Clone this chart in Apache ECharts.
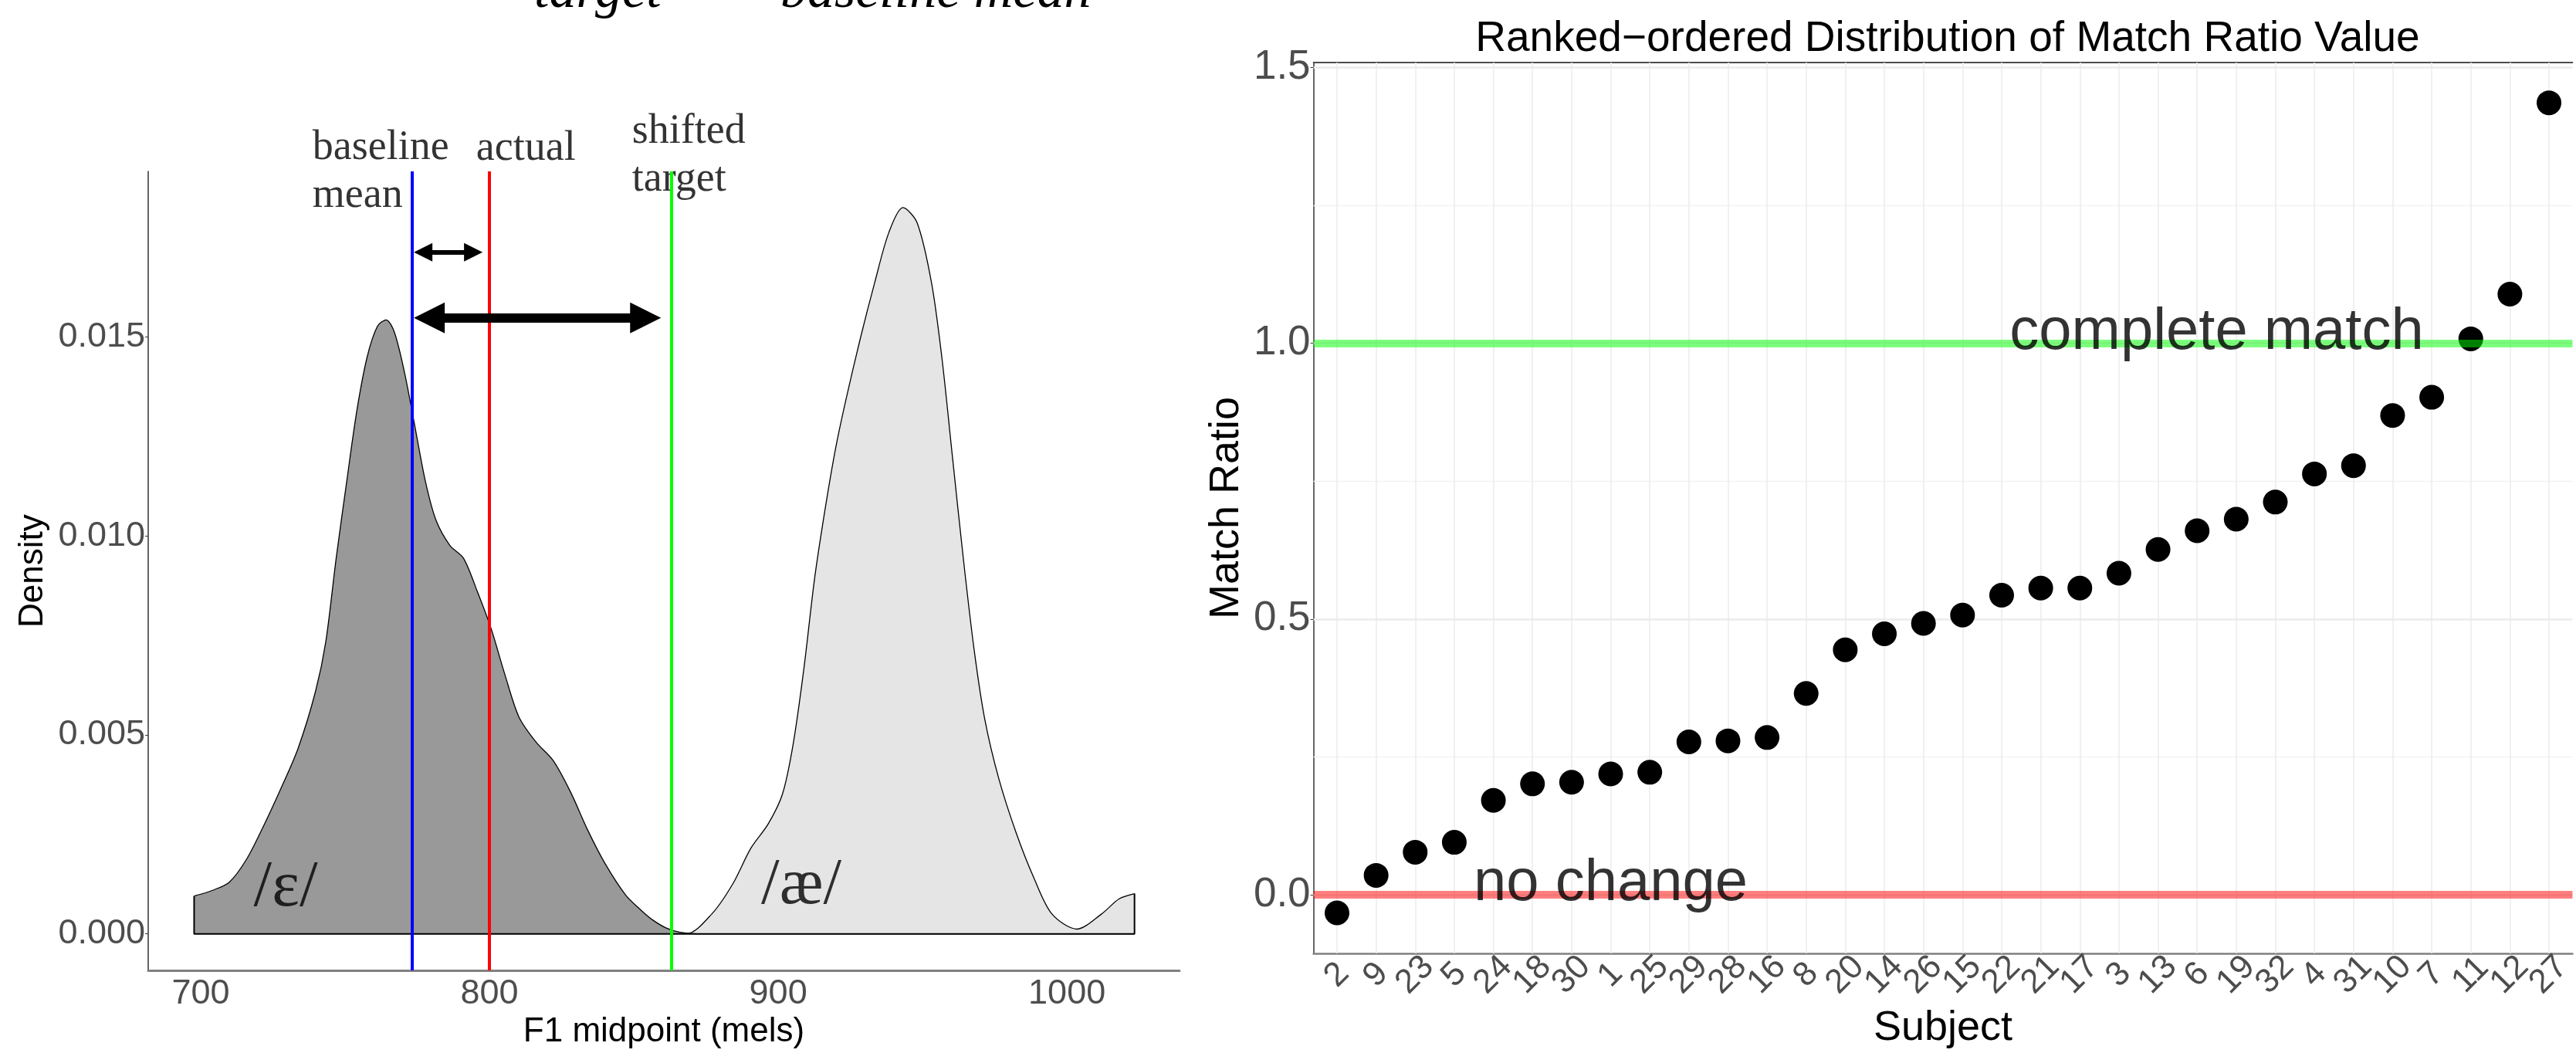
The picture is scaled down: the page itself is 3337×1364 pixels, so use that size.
<!DOCTYPE html>
<html lang="en">
<head>
<meta charset="UTF-8">
<title>F1 density and match ratio</title>
<script src="https://cdn.jsdelivr.net/npm/echarts@6/dist/echarts.min.js"></script>
<style>
html, body { margin: 0; padding: 0; background: #fff; }
#main { width: 3337px; height: 1364px; }
</style>
</head>
<body>
<div id="main"></div>
<script>
// ---- left panel: F1 midpoint density for /ɛ/ and /æ/ ----
var epsF1 = [697.7, 703.9, 709.9, 715.9, 721.8, 727.8, 733.7, 739.7, 743.3, 746.9, 750.5, 754.0, 757.6, 761.2, 764.2, 767.1, 770.7, 774.3, 777.9, 781.5, 786.3, 791.0, 795.8, 800.6, 805.4, 810.2, 816.1, 822.1, 828.1, 834.0, 840.0, 847.1, 852.4, 856.5, 861.4, 866.0, 872.0, 1023.4];
var epsDensity = [0.00095, 0.00109, 0.00130, 0.00188, 0.00272, 0.00366, 0.00466, 0.00608, 0.00734, 0.00944, 0.01134, 0.01312, 0.01449, 0.01527, 0.01543, 0.01511, 0.01406, 0.01270, 0.01134, 0.01039, 0.00976, 0.00944, 0.00860, 0.00766, 0.00650, 0.00545, 0.00482, 0.00435, 0.00356, 0.00261, 0.00177, 0.00098, 0.00060, 0.00035, 0.00014, 0.00004, 0, 0];
var aeF1 = [855.0, 862.0, 868.4, 877.0, 884.3, 890.5, 896.6, 901.5, 905.2, 908.9, 912.6, 916.3, 919.9, 923.6, 928.5, 933.4, 938.3, 943.2, 948.1, 953.1, 956.7, 960.4, 964.1, 967.8, 971.5, 976.4, 982.5, 988.7, 994.8, 1003.4, 1012.0, 1018.1, 1023.4];
var aeDensity = [0.00020, 0.00006, 0.00001, 0.00050, 0.00126, 0.00215, 0.00277, 0.00352, 0.00478, 0.00667, 0.00893, 0.01070, 0.01221, 0.01347, 0.01498, 0.01636, 0.01762, 0.01825, 0.01787, 0.01636, 0.01447, 0.01195, 0.00944, 0.00717, 0.00541, 0.00390, 0.00252, 0.00138, 0.00050, 0.00012, 0.00050, 0.00088, 0.00101];
var f1Ticks = [700, 800, 900, 1000];
var densityTicks = [0, 0.005, 0.010, 0.015];

var baselineMean = 773.3, actualF1 = 800, shiftedTarget = 863;
// arrow tips (F1) and height (density)
var arrowFrom = [773.8, 773.8];
var arrowTo = [797.6, 859.4];
var arrowAt = [0.01713, 0.01548];

// ---- right panel: ranked match ratio per subject ----
var subjects = ['2', '9', '23', '5', '24', '18', '30', '1', '25', '29', '28', '16', '8', '20', '14', '26', '15', '22', '21', '17', '3', '13', '6', '19', '32', '4', '31', '10', '7', '11', '12', '27'];
var matchRatio = [-0.033, 0.035, 0.077, 0.095, 0.171, 0.201, 0.204, 0.219, 0.222, 0.277, 0.279, 0.285, 0.365, 0.444, 0.473, 0.492, 0.507, 0.543, 0.556, 0.556, 0.583, 0.626, 0.660, 0.681, 0.712, 0.763, 0.778, 0.869, 0.902, 1.008, 1.089, 1.436];
var ratioTicks = [0, 0.5, 1.0, 1.5];
var ratioMinor = [0.25, 0.75, 1.25];

var SANS = "'Liberation Sans', Arial, Helvetica, sans-serif";
var SERIF = "'Liberation Serif', 'DejaVu Serif', 'Times New Roman', serif";

var leftGrid = { left: 192, top: 222, width: 1336, height: 1048 };
var rightGrid = { left: 1701.6, top: 81, width: 1643.4, height: 1162 };
var f1Range = [681.8, 1039.0];
var densRange = [-0.00092, 0.01916];
var ratioRange = [-0.1065, 1.509];
var rankRange = [0.4, 32.6];

function zip(xs, ys) { return xs.map(function (x, i) { return [x, ys[i]]; }); }

var pxPerF1 = leftGrid.width / (f1Range[1] - f1Range[0]);
var arrowHead = [24, 40];
var arrowWidth = [6, 12];
var arrowLines = arrowFrom.map(function (a, i) {
  var off = arrowHead[i] / 2 / pxPerF1;
  return [
    { coord: [a + off, arrowAt[i]], symbolSize: arrowHead[i], lineStyle: { color: '#000', width: arrowWidth[i], type: 'solid' } },
    { coord: [arrowTo[i] - off, arrowAt[i]], symbolSize: arrowHead[i] }
  ];
});

var rankIdx = subjects.map(function (s, i) { return i + 1; });
var hidden = { color: 'rgba(0,0,0,0)', borderWidth: 0 };

// rotated subject labels, split over two axes (odd / even ranks) so none is dropped as overlapping
function subjectLabels(values) {
  return {
    customValues: values, rotate: 45, align: 'center', verticalAlign: 'middle', margin: 28,
    showMinLabel: true, showMaxLabel: true, hideOverlap: false,
    color: '#4d4d4d', fontSize: 44, fontFamily: SANS,
    formatter: function (v) { return subjects[Math.round(v) - 1]; }
  };
}
var oddRanks = rankIdx.filter(function (v) { return v % 2 === 1; });
var evenRanks = rankIdx.filter(function (v) { return v % 2 === 0; });

var chart = echarts.init(document.getElementById('main'));
chart.setOption({
  animation: false,
  backgroundColor: '#ffffff',
  grid: [
    { left: leftGrid.left, top: leftGrid.top, width: leftGrid.width, height: leftGrid.height },
    { left: rightGrid.left, top: rightGrid.top, width: rightGrid.width, height: rightGrid.height }
  ],
  xAxis: [
    {
      gridIndex: 0, type: 'value', min: f1Range[0], max: f1Range[1],
      axisLine: { show: true, onZero: false, lineStyle: { color: '#808080', width: 3 } },
      axisTick: { show: false },
      splitLine: { show: false },
      axisLabel: {
        customValues: f1Ticks, color: '#4d4d4d', fontSize: 45, fontFamily: SANS, margin: 8,
        formatter: function (v) { return String(v); }
      },
      name: 'F1 midpoint (mels)', nameLocation: 'middle', nameGap: 48,
      nameTextStyle: { color: '#000', fontSize: 44, fontFamily: SANS }
    },
    {
      gridIndex: 1, type: 'value', min: rankRange[0], max: rankRange[1],
      axisLine: { show: true, onZero: false, lineStyle: { color: '#808080', width: 2.5 } },
      axisTick: { show: false },
      splitLine: { show: false },
      axisLabel: subjectLabels(oddRanks),
      name: 'Subject', nameLocation: 'middle', nameGap: 70,
      nameTextStyle: { color: '#000', fontSize: 54, fontFamily: SANS }
    },
    {
      gridIndex: 1, type: 'value', position: 'top', min: rankRange[0], max: rankRange[1],
      axisLine: { show: true, onZero: false, lineStyle: { color: '#4d4d4d', width: 2 } },
      axisTick: { show: false }, axisLabel: { show: false }, splitLine: { show: false }
    },
    {
      gridIndex: 1, type: 'value', position: 'bottom', min: rankRange[0], max: rankRange[1],
      axisLine: { show: false, onZero: false }, axisTick: { show: false }, splitLine: { show: false },
      axisLabel: subjectLabels(evenRanks)
    }
  ],
  yAxis: [
    {
      gridIndex: 0, type: 'value', min: densRange[0], max: densRange[1],
      axisLine: { show: true, onZero: false, lineStyle: { color: '#333', width: 1.5 } },
      axisTick: { show: true, customValues: densityTicks, length: 4, lineStyle: { color: '#333' } },
      splitLine: { show: false },
      axisLabel: {
        customValues: densityTicks, color: '#4d4d4d', fontSize: 45, fontFamily: SANS, margin: 4,
        formatter: function (v) { return v.toFixed(3); }
      },
      name: 'Density', nameLocation: 'middle', nameGap: 127, nameRotate: 90,
      nameTextStyle: { color: '#000', fontSize: 44, fontFamily: SANS }
    },
    {
      gridIndex: 1, type: 'value', min: ratioRange[0], max: ratioRange[1],
      axisLine: { show: true, onZero: false, lineStyle: { color: '#333', width: 1.5 } },
      axisTick: { show: true, customValues: ratioTicks, length: 4, lineStyle: { color: '#333' } },
      splitLine: { show: false },
      axisLabel: {
        customValues: ratioTicks, color: '#4d4d4d', fontSize: 53, fontFamily: SANS, margin: 4,
        formatter: function (v) { return v.toFixed(1); }
      },
      name: 'Match Ratio', nameLocation: 'middle', nameGap: 85, nameRotate: 90,
      nameTextStyle: { color: '#000', fontSize: 54, fontFamily: SANS }
    }
  ],
  series: [
    // /æ/ density (behind)
    {
      name: 'ae', type: 'line', xAxisIndex: 0, yAxisIndex: 0, z: 2,
      data: zip(aeF1, aeDensity), smooth: 0.3, showSymbol: false, symbol: 'none',
      lineStyle: { color: '#000', width: 1.3 },
      areaStyle: { color: '#e5e5e5', opacity: 1 }
    },
    // /ɛ/ density (front)
    {
      name: 'eps', type: 'line', xAxisIndex: 0, yAxisIndex: 0, z: 3,
      data: zip(epsF1, epsDensity), smooth: 0.3, showSymbol: false, symbol: 'none',
      lineStyle: { color: '#000', width: 1.3 },
      areaStyle: { color: '#999999', opacity: 1 }
    },
    // outline edges and baseline of the density polygons
    {
      name: 'outline', type: 'line', xAxisIndex: 0, yAxisIndex: 0, z: 3,
      data: [
        [epsF1[0], epsDensity[0]], [epsF1[0], 0],
        [aeF1[aeF1.length - 1], 0], [aeF1[aeF1.length - 1], aeDensity[aeDensity.length - 1]]
      ],
      symbol: 'none', lineStyle: { color: '#000', width: 2 }
    },
    // reference lines and arrows
    {
      name: 'refs', type: 'line', xAxisIndex: 0, yAxisIndex: 0, data: [],
      markLine: {
        silent: true, symbol: 'none', z: 5, label: { show: false },
        data: [
          { xAxis: baselineMean, lineStyle: { color: '#0000ff', width: 4, type: 'solid' } },
          { xAxis: actualF1, lineStyle: { color: '#ff0000', width: 4, type: 'solid' } },
          { xAxis: shiftedTarget, lineStyle: { color: '#00ff00', width: 4, type: 'solid' } }
        ]
      }
    },
    {
      name: 'arrows', type: 'line', xAxisIndex: 0, yAxisIndex: 0, data: [],
      markLine: {
        silent: true, symbol: ['triangle', 'triangle'], z: 5, label: { show: false },
        data: arrowLines
      }
    },
    // labels above the left panel
    {
      name: 'leftNotes', type: 'scatter', xAxisIndex: 0, yAxisIndex: 0, z: 4, clip: false,
      symbolSize: 1, itemStyle: hidden,
      label: {
        show: true, position: [0, 0], align: 'left', verticalAlign: 'top',
        fontFamily: SERIF, fontSize: 54, lineHeight: 62, color: '#000',
        formatter: function (p) { return p.data[2]; }
      },
      data: [[738.8, 0.02033, 'baseline\nmean'], [795.5, 0.02031, 'actual'], [849.5, 0.02075, 'shifted\ntarget']]
    },
    {
      name: 'vowels', type: 'scatter', xAxisIndex: 0, yAxisIndex: 0, z: 6,
      symbolSize: 1, itemStyle: hidden,
      label: {
        show: true, position: 'inside', align: 'center', verticalAlign: 'middle',
        fontFamily: SERIF, fontSize: 85, color: '#000',
        formatter: function (p) { return p.data[2]; }
      },
      data: [[729.4, 0.00115, '/ɛ/'], [908.0, 0.00121, '/æ/']]
    },
    // right panel gridlines
    {
      name: 'grid', type: 'line', xAxisIndex: 1, yAxisIndex: 1, data: [],
      markLine: {
        silent: true, symbol: 'none', z: 1, label: { show: false },
        data: ratioTicks.map(function (v) { return { yAxis: v, lineStyle: { color: '#ebebeb', width: 2.5, type: 'solid' } }; })
          .concat(ratioMinor.map(function (v) { return { yAxis: v, lineStyle: { color: '#f2f2f2', width: 1.3, type: 'solid' } }; }))
          .concat(rankIdx.map(function (v) { return { xAxis: v, lineStyle: { color: '#ebebeb', width: 1.5, type: 'solid' } }; }))
      }
    },
    {
      name: 'Match Ratio', type: 'scatter', xAxisIndex: 1, yAxisIndex: 1, z: 3,
      symbolSize: 32, itemStyle: { color: '#000', opacity: 1 },
      data: zip(rankIdx, matchRatio)
    },
    {
      name: 'levels', type: 'line', xAxisIndex: 1, yAxisIndex: 1, data: [],
      markLine: {
        silent: true, symbol: 'none', z: 5, label: { show: false },
        data: [
          { yAxis: 0, lineStyle: { color: 'rgba(255,0,0,0.5)', width: 10, type: 'solid' } },
          { yAxis: 1, lineStyle: { color: 'rgba(0,255,0,0.5)', width: 10, type: 'solid' } }
        ]
      }
    },
    {
      name: 'rightNotes', type: 'scatter', xAxisIndex: 1, yAxisIndex: 1, z: 6,
      symbolSize: 1, itemStyle: hidden,
      label: {
        show: true, position: 'inside', align: 'center', verticalAlign: 'middle', offset: [0, -14],
        fontFamily: SANS, fontSize: 76, color: '#000', textBorderWidth: 0,
        formatter: function (p) { return p.data[2]; }
      },
      data: [[23.5, 1.0, 'complete match'], [8.0, 0.0, 'no change']]
    }
  ],
  graphic: [
    { type: 'text', x: 2523, y: 51, z: 10, style: { text: 'Ranked\u2212ordered Distribution of Match Ratio Value', font: '55px ' + SANS, fill: '#000', align: 'center', verticalAlign: 'middle' } },
    // formula above the left panel, mostly cut off by the top edge
    { type: 'text', x: 645, y: -25, z: 10, style: { text: 'F', font: 'italic 90px ' + SERIF, fill: '#000', align: 'left', verticalAlign: 'middle' } },
    { type: 'text', x: 692, y: -9, z: 10, style: { text: 'target', font: 'italic 70px ' + SERIF, fill: '#000', align: 'left', verticalAlign: 'middle' } },
    { type: 'text', x: 965, y: -25, z: 10, style: { text: 'F', font: 'italic 90px ' + SERIF, fill: '#000', align: 'left', verticalAlign: 'middle' } },
    { type: 'text', x: 1011, y: -9, z: 10, style: { text: 'baseline mean', font: 'italic 70px ' + SERIF, fill: '#000', align: 'left', verticalAlign: 'middle' } }
  ]
});
</script>
</body>
</html>
